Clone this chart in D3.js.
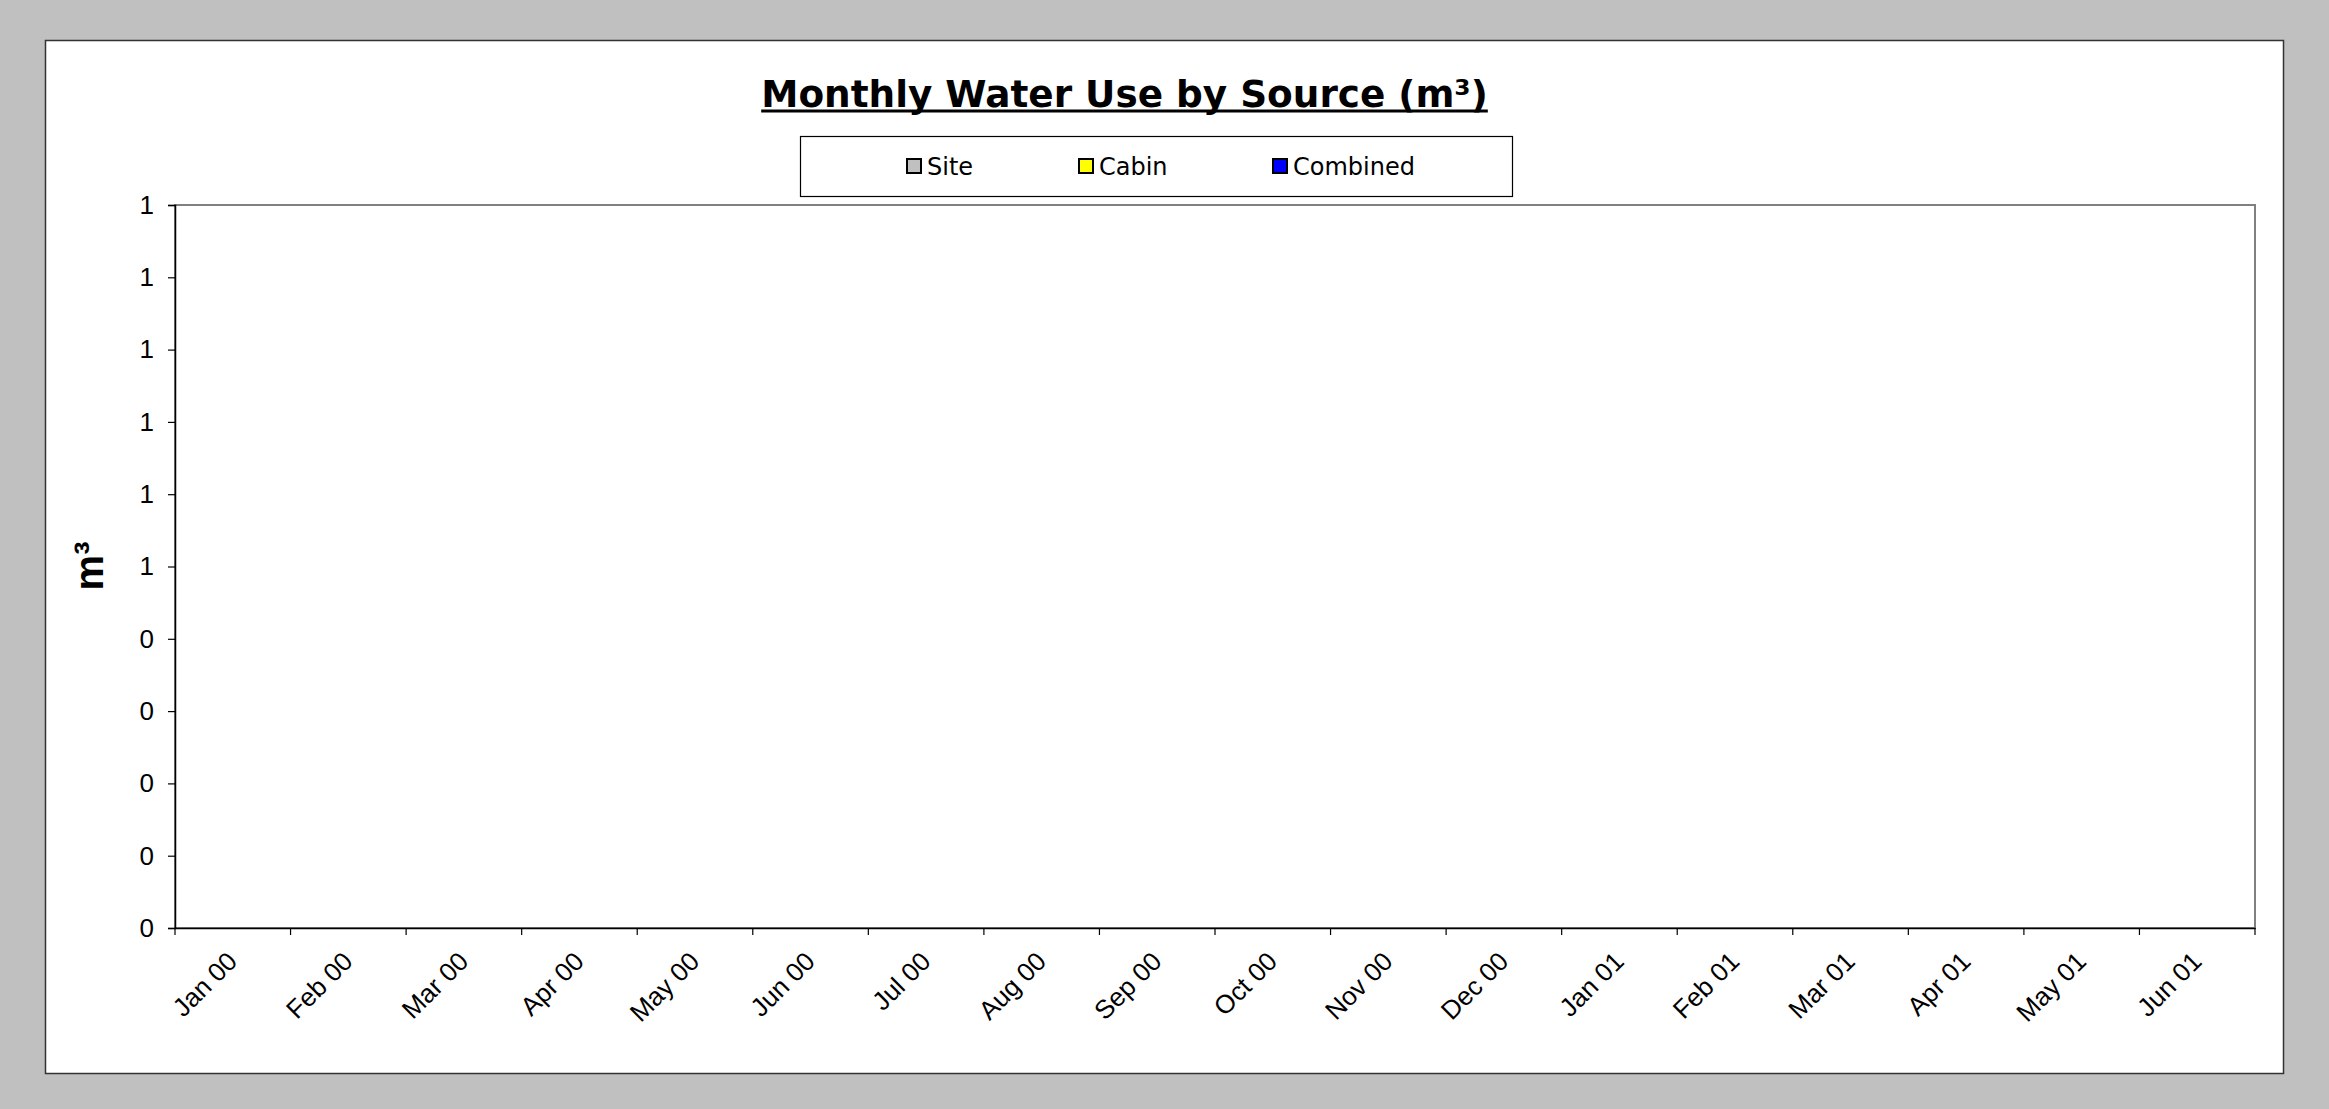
<!DOCTYPE html>
<html>
<head>
<meta charset="utf-8">
<script src="https://cdn.jsdelivr.net/npm/d3@7"></script>
<style>
  html, body { margin: 0; padding: 0; background: #C0C0C0; }
  svg { display: block; }
</style>
</head>
<body>
<script>
// ---- data ----
const months = ["Jan 00","Feb 00","Mar 00","Apr 00","May 00","Jun 00","Jul 00","Aug 00","Sep 00",
                "Oct 00","Nov 00","Dec 00","Jan 01","Feb 01","Mar 01","Apr 01","May 01","Jun 01"];
const seriesNames = ["Site","Cabin","Combined"];
const seriesColors = ["#C0C0C0","#FFFF00","#0000FF"];
const siteValues     = [0,0,0,0,0,0,0,0,0,0,0,0,0,0,0,0,0,0];
const cabinValues    = [0,0,0,0,0,0,0,0,0,0,0,0,0,0,0,0,0,0];
const combinedValues = [0,0,0,0,0,0,0,0,0,0,0,0,0,0,0,0,0,0];
const yDomain = [0, 1];
const yTicks = [0, 0.1, 0.2, 0.3, 0.4, 0.5, 0.6, 0.7, 0.8, 0.9, 1];
const titleText = "Monthly Water Use by Source (m\u00B3)";
const yTitle = "m\u00B3";

// ---- layout ----
const W = 2329, H = 1109;
const plot = { left: 175, right: 2255, top: 205, bottom: 928 };

const svg = d3.select("body").append("svg").attr("width", W).attr("height", H);
svg.append("rect").attr("width", W).attr("height", H).attr("fill", "#C0C0C0");

// chart area
svg.append("rect").attr("x", 45.5).attr("y", 40.5).attr("width", 2238).attr("height", 1033)
  .attr("fill", "#FFFFFF").attr("stroke", "#333333").attr("stroke-width", 1.5);

// scales
const x = d3.scaleBand().domain(months).range([plot.left, plot.right]).paddingInner(0).paddingOuter(0);
const xs = d3.scaleBand().domain(seriesNames).range([0, x.bandwidth()]).paddingInner(0).paddingOuter(0.5);
const y = d3.scaleLinear().domain(yDomain).range([plot.bottom, plot.top]);

// plot area border (gray)
svg.append("rect").attr("x", plot.left).attr("y", plot.top)
  .attr("width", plot.right - plot.left).attr("height", plot.bottom - plot.top)
  .attr("fill", "#FFFFFF").attr("stroke", "#808080").attr("stroke-width", 2);

// bars
const seriesData = [siteValues, cabinValues, combinedValues];
seriesNames.forEach((s, si) => {
  svg.append("g").selectAll("rect").data(seriesData[si]).join("rect")
    .attr("x", (d, i) => x(months[i]) + xs(s))
    .attr("width", xs.bandwidth())
    .attr("y", d => y(d))
    .attr("height", d => y(0) - y(d))
    .attr("fill", seriesColors[si])
    .attr("stroke", d => d > 0 ? "#000" : "none");
});

// y axis
const yAxis = svg.append("g").attr("transform", `translate(${plot.left},0)`)
  .call(d3.axisLeft(y).tickValues(yTicks).tickFormat(d3.format(".0f")).tickSize(7).tickPadding(14));
yAxis.select(".domain").attr("stroke", "#000").attr("stroke-width", 1.5);
yAxis.selectAll(".tick line").attr("stroke", "#000").attr("stroke-width", 1.2);
yAxis.selectAll(".tick text").attr("font-family", "'Liberation Sans', Arial, sans-serif")
  .attr("font-size", 26).attr("fill", "#000");

// x axis (ticks at category boundaries)
const xAxis = svg.append("g").attr("transform", `translate(0,${plot.bottom})`)
  .call(d3.axisBottom(x).tickSize(0).tickFormat(""));
xAxis.select(".domain").attr("stroke", "#000").attr("stroke-width", 1.5);
const boundaries = months.map(m => x(m)).concat([x.range()[1]]);
xAxis.selectAll("line.bound").data(boundaries).join("line").attr("class", "bound")
  .attr("x1", d => d).attr("x2", d => d).attr("y1", 0).attr("y2", 7)
  .attr("stroke", "#000").attr("stroke-width", 1.2);
svg.append("g").selectAll("text").data(months).join("text")
  .attr("transform", d => `translate(${x(d) + x.bandwidth() / 2 + 6},${plot.bottom + 35}) rotate(-45)`)
  .attr("text-anchor", "end")
  .attr("font-family", "'Liberation Sans', Arial, sans-serif")
  .attr("font-size", 26).attr("fill", "#000")
  .text(d => d);

// y axis title
svg.append("text")
  .attr("transform", `translate(103,566) rotate(-90)`)
  .attr("text-anchor", "middle")
  .attr("font-family", "'Liberation Sans', Arial, sans-serif")
  .attr("font-weight", "bold").attr("font-size", 40).attr("fill", "#000")
  .text(yTitle);

// title
const title = svg.append("text")
  .attr("x", 1124.5).attr("y", 106.5)
  .attr("text-anchor", "middle")
  .attr("font-family", "'DejaVu Sans', Verdana, sans-serif")
  .attr("font-weight", "bold").attr("font-size", 34).attr("fill", "#000")
  .text(titleText);
const tw = title.node().getComputedTextLength();
const targetW = 727;
title.attr("font-size", 34 * targetW / tw);
const tw2 = title.node().getComputedTextLength();
svg.append("rect").attr("x", 1124.5 - tw2 / 2).attr("y", 109.5).attr("width", tw2).attr("height", 3).attr("fill", "#000");

// legend
svg.append("rect").attr("x", 800.5).attr("y", 136.5).attr("width", 712).attr("height", 60)
  .attr("fill", "#FFFFFF").attr("stroke", "#000").attr("stroke-width", 1.2);
const legendX = [906, 1078, 1272];
const lg = svg.append("g").selectAll("g").data(seriesNames).join("g")
  .attr("transform", (d, i) => `translate(${legendX[i]},158)`);
lg.append("rect").attr("x", 1).attr("y", 1).attr("width", 14).attr("height", 14)
  .attr("fill", (d, i) => seriesColors[i]).attr("stroke", "#000").attr("stroke-width", 2);
lg.append("text").attr("x", 21).attr("y", 16.5)
  .attr("font-family", "'DejaVu Sans', Verdana, sans-serif")
  .attr("font-size", 24).attr("fill", "#000")
  .text(d => d);
</script>
</body>
</html>
